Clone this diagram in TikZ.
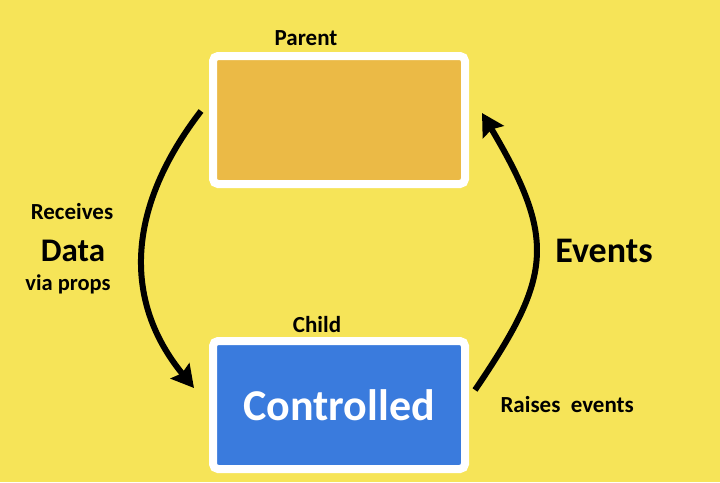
\documentclass[tikz,border=0pt]{standalone}
\usepackage{fontspec}
\setmainfont{Carlito}
\usetikzlibrary{arrows.meta}
\definecolor{bgyellow}{RGB}{246,228,88}
\definecolor{parentorange}{RGB}{235,186,70}
\definecolor{childblue}{RGB}{58,123,221}

\begin{document}
\begin{tikzpicture}[x=1pt,y=-1pt,
	box/.style={draw=white,line width=8pt,rounded corners=5pt,minimum width=252pt,minimum height=128pt,inner sep=0pt},
	flow/.style={line width=6pt,-{Stealth[length=22pt,width=24pt,inset=3pt]}},
	lbl/.style={font=\bfseries\fontsize{23}{23}\selectfont,anchor=base}]
		\fill[bgyellow] (0,0) rectangle (720,482);
		\useasboundingbox (0,0) rectangle (720,482);

		\node[box,fill=parentorange] (parent) at (339,120) {};
		\node[box,fill=childblue,text=white,font=\bfseries\fontsize{44}{44}\selectfont] (child) at (339,405) {Controlled};

		\node[lbl] (parentLabel) at (306,45) {Parent};
		\node[lbl] (childLabel) at (317,332) {Child};

		\node[lbl] (receives) at (72,219) {Receives};
		\node[lbl,font=\bfseries\fontsize{33}{33}\selectfont] (data) at (73,261) {Data};
		\node[lbl,font=\bfseries\fontsize{22.5}{22.5}\selectfont] (viaProps) at (68,290) {via props};

		\node[lbl,font=\bfseries\fontsize{36}{36}\selectfont] (events) at (604,262) {Events};
		\node[lbl,anchor=base west] (raises) at (497,412) {Raises\ \ events};

		\coordinate (dataFrom) at ([xshift=-8pt,yshift=9pt]parent.west);
		\coordinate (dataTo) at ([xshift=-15pt,yshift=17pt]child.west);
		\draw[flow] (dataFrom) .. controls +(-74,96) and +(-72,-88) .. (dataTo);

		\coordinate (eventsFrom) at ([xshift=6pt,yshift=15pt]child.east);
		\coordinate (eventsTo) at ([xshift=13pt,yshift=7pt]parent.east);
		\draw[flow] (eventsFrom) .. controls +(76,-112) and +(76,128) .. (eventsTo);
	\end{tikzpicture}
\end{document}
